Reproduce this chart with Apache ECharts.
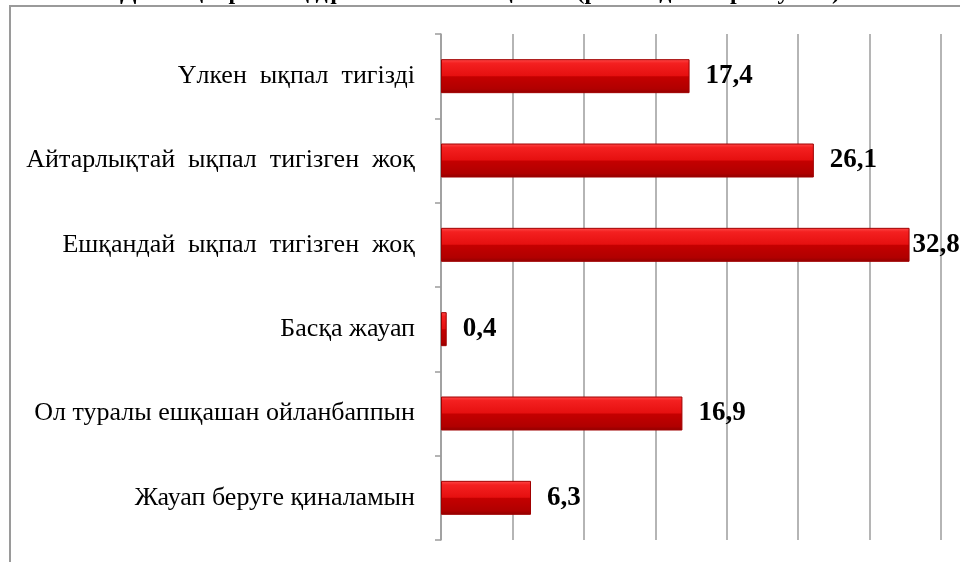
<!DOCTYPE html>
<html>
<head>
<meta charset="utf-8">
<script src="https://cdn.jsdelivr.net/npm/echarts@6/dist/echarts.min.js"></script>
<style>
  html, body { margin: 0; padding: 0; background: #fff; }
  #chart { width: 960px; height: 562px; }
</style>
</head>
<body>
<div id="chart"></div>
<script>
// категориялар мен мәндер (пайыз)
const categories = [
    'Үлкен  ықпал  тигізді',
    'Айтарлықтай  ықпал  тигізген  жоқ',
    'Ешқандай  ықпал  тигізген  жоқ',
    'Басқа жауап',
    'Ол туралы ешқашан ойланбаппын',
    'Жауап беруге қиналамын'
];
const values = [17.4, 26.1, 32.8, 0.4, 16.9, 6.3];
const axisMin = 0;
const axisMax = 35;
const axisStep = 5;

const serif = '"Liberation Serif", "DejaVu Serif", serif';

const chart = echarts.init(document.getElementById('chart'));

// рельефті қызыл баған
const barFill = new echarts.graphic.LinearGradient(0, 0, 0, 1, [
    { offset: 0, color: '#ff4a4a' },
    { offset: 0.12, color: '#f42020' },
    { offset: 0.48, color: '#e61010' },
    { offset: 0.52, color: '#c40000' },
    { offset: 0.88, color: '#b00000' },
    { offset: 1, color: '#8e0000' }
]);

// ең ұзын бағанның жазуы шеттен шықпауы үшін жақынырақ қойылады
const barData = values.map(v => ({
    value: v,
    label: { distance: v > 30 ? 3 : 16 }
}));

chart.setOption({
    animation: false,
    // тақырып суреттің жоғарғы шетінен кесілген
    title: {
        text: 'Діни ақпараттың дүниетанымға ықпалы (респонденттер жауабы)',
        left: 'center',
        top: -24,
        textStyle: { fontFamily: serif, fontWeight: 'bold', fontSize: 24, color: '#000' }
    },
    graphic: [{
        type: 'rect',
        shape: { x: 10, y: 6, width: 1000, height: 620 },
        style: { fill: 'none', stroke: '#9a9a9a', lineWidth: 2 },
        silent: true,
        z: -1
    }],
    grid: { left: 441, right: 19, top: 34, bottom: 22 },
    xAxis: {
        type: 'value',
        min: axisMin,
        max: axisMax,
        interval: axisStep,
        axisLine: { show: false },
        axisTick: { show: false },
        axisLabel: { show: false },
        splitLine: { show: true, lineStyle: { color: '#9c9c9c', width: 1.5 } }
    },
    yAxis: {
        type: 'category',
        inverse: true,
        data: categories,
        axisLine: { show: true, lineStyle: { color: '#9c9c9c', width: 1.5 } },
        axisTick: { show: true, length: 6, lineStyle: { color: '#9c9c9c', width: 1.5 } },
        axisLabel: {
            margin: 26,
            fontFamily: serif,
            fontSize: 26,
            color: '#000'
        }
    },
    series: [{
        type: 'bar',
        data: barData,
        barWidth: 34,
        itemStyle: {
            color: barFill,
            borderColor: '#a00000',
            borderWidth: 1
        },
        label: {
            show: true,
            position: 'right',
            distance: 16,
            formatter: p => String(p.value).replace('.', ','),
            fontFamily: serif,
            fontWeight: 'bold',
            fontSize: 27,
            color: '#000'
        }
    }]
});
</script>
</body>
</html>
